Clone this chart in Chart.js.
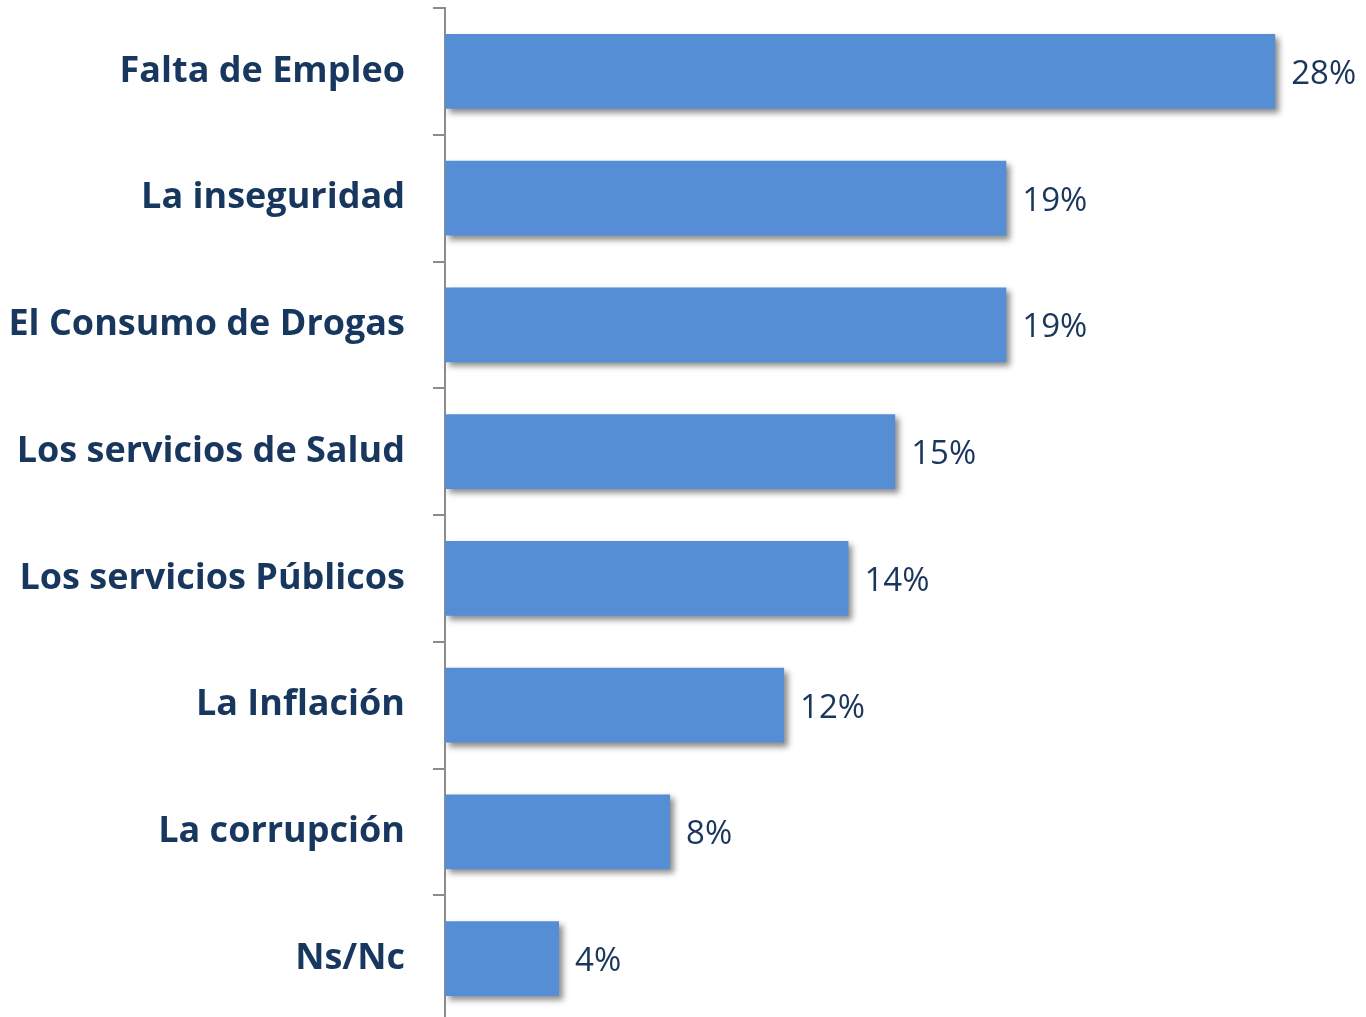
<!DOCTYPE html>
<html>
<head>
<meta charset="utf-8">
<script src="https://cdn.jsdelivr.net/npm/chart.js@4.4.1/dist/chart.umd.min.js"></script>
<style>
  html, body { margin: 0; padding: 0; background: #fff; overflow: hidden; }
  canvas { display: block; }
</style>
</head>
<body>
<canvas id="chart" width="1366" height="1022"></canvas>
<script>
// data
const categories = [
  'Falta de Empleo',
  'La inseguridad',
  'El Consumo de Drogas',
  'Los servicios de Salud',
  'Los servicios Públicos',
  'La Inflación',
  'La corrupción',
  'Ns/Nc'
];
const percentages = [28.4, 19.2, 19.2, 15.4, 13.8, 11.6, 7.7, 3.9];

// value labels right of each bar
const valueLabels = {
  id: 'valueLabels',
  afterDatasetsDraw(chart) {
    const ctx = chart.ctx;
    const meta = chart.getDatasetMeta(0);
    ctx.save();
    ctx.font = '33px "Open Sans"';
    ctx.fillStyle = '#1b365d';
    ctx.textBaseline = 'middle';
    ctx.textAlign = 'left';
    meta.data.forEach((bar, i) => {
      ctx.fillText(Math.round(percentages[i]) + '%', bar.x + 16, bar.y + 3);
    });
    ctx.restore();
  }
};

// soft shadow under the bars
const barShadow = {
  id: 'barShadow',
  beforeDatasetDraw(chart) {
    const ctx = chart.ctx;
    ctx.save();
    ctx.shadowColor = 'rgba(0,0,0,0.45)';
    ctx.shadowBlur = 6;
    ctx.shadowOffsetX = 4;
    ctx.shadowOffsetY = 4;
  },
  afterDatasetDraw(chart) {
    chart.ctx.restore();
  }
};

const ctx = document.getElementById('chart').getContext('2d');
const chart = new Chart(ctx, {
  type: 'bar',
  data: {
    labels: categories,
    datasets: [{
      data: percentages,
      backgroundColor: '#558ed5',
      borderWidth: 0,
      categoryPercentage: 0.59,
      barPercentage: 1.0
    }]
  },
  options: {
    indexAxis: 'y',
    responsive: false,
    animation: false,
    layout: { padding: { top: 8, right: 44, bottom: 0, left: 0 } },
    plugins: {
      legend: { display: false },
      tooltip: { enabled: false }
    },
    scales: {
      x: {
        display: false,
        min: 0,
        max: 30
      },
      y: {
        afterFit(scale) {
          // axis line sits at x=445, no extra room for label overhang
          scale.width = 445;
          scale.paddingTop = 0;
          scale.paddingBottom = 0;
        },
        border: { display: true, color: '#8c8c8c', width: 2 },
        grid: {
          offset: true,
          drawOnChartArea: false,
          drawTicks: true,
          tickLength: 12,
          color: '#8c8c8c',
          lineWidth: 2
        },
        ticks: {
          padding: 28,
          color: '#17375e',
          font: { family: '"Open Sans"', size: 36, weight: 'bold' }
        }
      }
    }
  },
  plugins: [barShadow, valueLabels]
});
</script>
</body>
</html>
